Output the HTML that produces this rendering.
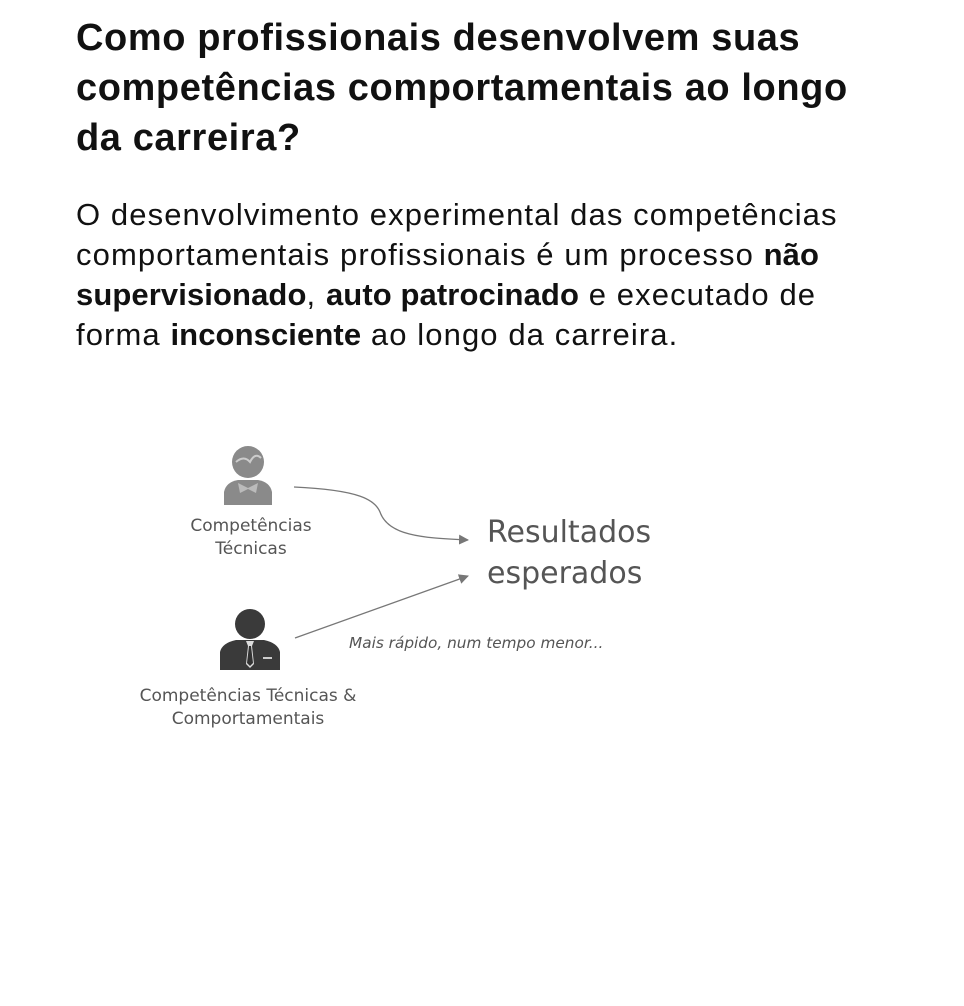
<!DOCTYPE html>
<html><head><meta charset="utf-8"><style>
body{margin:0;width:964px;height:1006px;background:#fff;position:relative;font-family:"Liberation Sans",sans-serif;overflow:hidden}
.t{position:absolute;left:76px;top:13px;font-size:38px;font-weight:bold;line-height:50px;color:#111;letter-spacing:0.6px;width:880px}
.b{position:absolute;left:76px;top:195px;font-size:31px;line-height:40px;color:#111;width:888px;letter-spacing:1.1px}
.b b{letter-spacing:0.1px}
.l{position:absolute;color:#555;font-family:"DejaVu Sans","Liberation Sans",sans-serif;text-align:center}
</style></head><body>
<div class="t">Como profissionais desenvolvem suas<br>competências comportamentais ao longo<br>da carreira?</div>
<div class="b">O desenvolvimento experimental das competências<br>comportamentais profissionais é um processo <b>não</b><br><b>supervisionado</b>, <b>auto patrocinado</b> e executado de<br>forma <b>inconsciente</b> ao longo da carreira.</div>
<svg style="position:absolute;left:0;top:0" width="964" height="1006">
<defs><marker id="a" markerWidth="10" markerHeight="10" refX="9" refY="5" orient="auto" markerUnits="userSpaceOnUse"><path d="M0,0 L10,5 L0,10z" fill="#777"/></marker></defs>
<g fill="#8a8a8a">
<circle cx="248" cy="462" r="16"/>
<path d="M224,505 L224,492 Q226,482 238,480 L258,480 Q270,482 272,492 L272,505z"/>
</g>
<path d="M236,462 Q244,455 250,462 Q255,452 261,458" stroke="#ccc" stroke-width="2" fill="none"/>
<path d="M238,483 L248,488 L258,483 L256,493 L248,489 L240,493z" fill="#bbb"/>
<g fill="#3a3a3a">
<circle cx="250" cy="624" r="15"/>
<path d="M220,670 L220,652 Q222,643 236,640 L264,640 Q278,643 280,652 L280,670z"/>
</g>
<path d="M246,641 L254,641 L252,646 L254,664 L250,668 L246,664 L248,646z" fill="#ddd"/>
<path d="M249,646 L251,646 L253,663 L250,666 L247,663z" fill="#333"/>
<rect x="263" y="657" width="9" height="2" fill="#ccc"/>
<path d="M294,487 C360,490 375,500 380,512 C388,535 420,538 468,540" stroke="#777" stroke-width="1.3" fill="none" marker-end="url(#a)"/>
<path d="M295,638 L468,576" stroke="#777" stroke-width="1.3" fill="none" marker-end="url(#a)"/>
</svg>
<div class="l" style="left:171px;top:515px;width:160px;font-size:17px;line-height:23px">Competências<br>Técnicas</div>
<div class="l" style="left:130px;top:685px;width:236px;font-size:17px;line-height:23px">Competências Técnicas &amp;<br>Comportamentais</div>
<div class="l" style="left:487px;top:512px;font-size:30px;line-height:41px;text-align:left">Resultados<br>esperados</div>
<div class="l" style="left:349px;top:634px;font-size:15.3px;font-style:italic;text-align:left">Mais rápido, num tempo menor...</div>
</body></html>
